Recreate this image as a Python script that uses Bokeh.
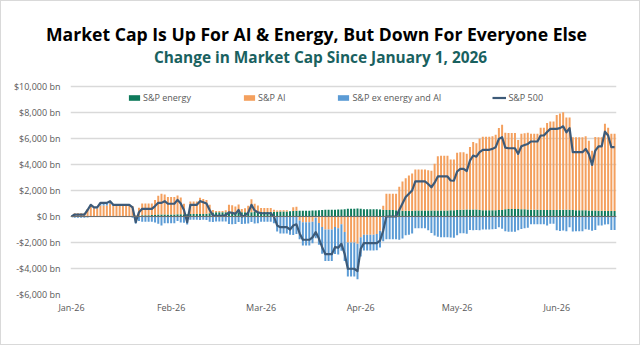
import numpy as np
import pandas as pd
from bokeh.plotting import figure
from bokeh.layouts import column
from bokeh.models import (ColumnDataSource, FixedTicker, CustomJSTickFormatter,
                          Legend, LegendItem, Span, Label, Range1d)
from bokeh.embed import file_html
from bokeh.resources import INLINE

# ---------------- data (change in market cap since Jan 1, 2026, $bn, daily) ----------------
start_date = "2026-01-01"

energy = [0, 0, 0, 0, 10, 20, 30, 30, 30, 30, 30, 30, 40, 40, 40, 40, 40, 40, 40, 50,
          50, 80, 100, 100, 100, 110, 120, 150, 150, 150, 150, 160, 160, 170, 170, 180, 180, 200, 200, 200,
          200, 200, 220, 250, 300, 330, 330, 330, 330, 320, 320, 320, 320, 330, 330, 330, 330, 340, 340, 350,
          350, 350, 350, 360, 370, 380, 380, 380, 400, 420, 450, 450, 450, 450, 450, 460, 470, 480, 500, 520,
          520, 520, 520, 530, 540, 560, 600, 600, 600, 620, 600, 560, 560, 560, 560, 550, 540, 520, 500, 500,
          500, 480, 480, 450, 450, 450, 450, 460, 460, 460, 460, 460, 460, 460, 460, 470, 470, 470, 480, 480,
          500, 520, 520, 540, 540, 540, 530, 500, 480, 480, 480, 480, 490, 500, 500, 560, 580, 580, 580, 580,
          560, 550, 540, 520, 520, 520, 500, 500, 500, 500, 500, 500, 520, 520, 520, 510, 500, 490, 490, 490,
          480, 470, 460, 460, 450, 450, 440, 430, 420, 420]

ai = [0, 250, 250, 250, 240, 550, 800, 600, 600, 820, 820, 820, 940, 760, 800, 800, 800, 800, 800, 750,
      50, 600, 900, 900, 900, 890, 1150, 1450, 1600, 1550, 1350, 1340, 1340, 1450, 1300, 800, -150, 950, 950, 950,
      1250, 1150, 1050, 650, 200, 100, 100, 100, 150, 580, 550, 450, 600, 250, 300, 500, 1000, 650, 500, 300,
      300, 300, 300, 150, 100, 100, 100, 100, 0, 300, 300, -300, -450, -450, -450, -400, -100, -500, -800, -1000,
      -1000, -1000, -800, -900, -600, -1200, -2000, -2000, -2000, -2100, -1600, -1400, -1400, -1400, -1400, -1350, -1100, 300, 1250, 1250,
      1250, 1270, 1800, 2250, 2500, 2700, 2850, 3150, 3150, 3150, 3150, 3100, 3050, 3600, 4180, 4200, 4200, 4200, 3900, 3900,
      4400, 4430, 4430, 4280, 4800, 5200, 5100, 5500, 5650, 5650, 5650, 5700, 5800, 6300, 6550, 5880, 5850, 5850, 5850, 5300,
      5800, 5850, 5900, 5850, 5850, 5850, 6330, 6330, 6700, 6800, 6800, 7300, 7400, 7500, 7100, 7100, 5600, 5600, 5600, 5600,
      5700, 5350, 4600, 5650, 5650, 5650, 6700, 6400, 5950, 5950]

ex_ai = [0, -100, -100, -100, -100, -70, 70, 70, 70, 200, 200, 200, 200, 100, 60, 60, 60, 60, 60, -100,
         -540, -350, -410, -410, -410, -410, -470, -550, -700, -520, -520, -520, -520, -340, -470, -480, -470, -250, -250, -250,
         -270, -250, -270, -400, -420, -380, -380, -380, -380, -570, -590, -570, -420, -580, -550, -530, -430, -530, -510, -400,
         -400, -400, -400, -510, -1160, -1300, -1300, -1300, -1400, -1420, -1350, -1450, -1790, -1790, -1790, -1660, -1570, -1680, -2060, -2420,
         -2420, -2420, -2080, -2030, -2040, -2230, -2620, -2620, -2620, -2720, -1480, -1210, -1210, -1210, -1210, -1250, -1290, -1900, -1750, -1750,
         -1750, -1750, -1780, -1700, -1450, -1400, -1300, -910, -910, -910, -910, -1060, -1260, -1460, -1560, -1590, -1590, -1590, -1610, -1630,
         -1440, -1280, -1280, -1320, -1040, -1050, -1030, -1050, -1000, -1000, -1000, -980, -960, -830, -950, -1140, -1180, -1180, -1180, -1060,
         -960, -900, -860, -600, -600, -600, -600, -600, -700, -560, -560, -1060, -1120, -1080, -1140, -820, -1150, -1140, -1140, -1140,
         -980, -1020, -1090, -1040, -700, -700, -610, -600, -1040, -1040]

sp500 = [0, 150, 150, 150, 150, 500, 900, 700, 700, 1050, 1050, 1050, 1180, 900, 900, 900, 900, 900, 900, 700,
         -440, 330, 590, 590, 590, 590, 800, 1050, 1050, 1180, 980, 980, 980, 1280, 1000, 500, -440, 900, 900, 900,
         1180, 1100, 1000, 500, 80, 50, 50, 50, 100, 330, 280, 200, 500, 0, 80, 300, 900, 460, 330, 250,
         250, 250, 250, 0, -690, -820, -820, -820, -1000, -700, -600, -1300, -1790, -1790, -1790, -1600, -1200, -1700, -2360, -2900,
         -2900, -2900, -2360, -2400, -2100, -2870, -4020, -4020, -4020, -4200, -2480, -2050, -2050, -2050, -2050, -2050, -1850, -1080, 0, 0,
         0, 0, 500, 1000, 1500, 1750, 2000, 2700, 2700, 2700, 2700, 2500, 2250, 2600, 3080, 3080, 3080, 3080, 2770, 2750,
         3460, 3670, 3670, 3500, 4300, 4690, 4600, 4950, 5130, 5130, 5130, 5200, 5330, 5970, 6100, 5300, 5250, 5250, 5250, 4820,
         5400, 5500, 5580, 5770, 5770, 5770, 6230, 6230, 6500, 6740, 6740, 6740, 6800, 6940, 6480, 6790, 4950, 4950, 4950, 4950,
         5200, 4800, 3970, 5070, 5400, 5400, 6530, 6230, 5330, 5330]

series_names = ["S&P energy", "S&P AI", "S&P ex energy and AI", "S&P 500"]
y_ticks = [-6000, -4000, -2000, 0, 2000, 4000, 6000, 8000, 10000]
month_ticks = ["2026-01-01", "2026-02-01", "2026-03-01", "2026-04-01", "2026-05-01", "2026-06-01"]

title_text = "Market Cap Is Up For AI & Energy, But Down For Everyone Else"
subtitle_text = "Change in Market Cap Since January 1, 2026"

# ---------------- styling ----------------
colors = ["#0E7A5B", "#F4A05E", "#5B9BD5"]
line_color = "#3D5A78"
font = "Open Sans"
grey = "#595959"

W = 638                     # inner width (1px border on each side)
H_TOP = 71                  # title strip
H_MAIN = 272                # chart
ML, MR, MB = 69, 23, 50
GRID_TOP = 14               # pixel row of the $10,000 gridline inside the chart figure
Y0, Y1 = -6000, 10000
px_per_unit = (H_MAIN - MB - GRID_TOP) / (Y1 - Y0)
y_top = Y1 + GRID_TOP / px_per_unit

# ---------------- title strip ----------------
pt = figure(width=W, height=H_TOP, output_backend="svg", toolbar_location=None, title=None,
            x_range=Range1d(0, W), y_range=Range1d(H_TOP, 0),
            x_axis_location=None, y_axis_location=None,
            min_border=0, background_fill_color="white", border_fill_color="white")
pt.frame_align = False
pt.outline_line_color = None
pt.grid.visible = False
pt.add_layout(Label(x=315, y=32, text=title_text, text_align="center", text_baseline="middle",
                    text_font=font, text_font_size="17.6px", text_font_style="bold",
                    text_color="#000000"))
pt.add_layout(Label(x=319, y=56, text=subtitle_text, text_align="center", text_baseline="middle",
                    text_font=font, text_font_size="15.4px", text_font_style="bold",
                    text_color="#19615F"))

# ---------------- chart ----------------
n = len(sp500)
dates = pd.date_range(start_date, periods=n, freq="D")
day_ms = 86400000.0

x0 = pd.Timestamp(start_date) - pd.Timedelta(hours=0.31 * 24)
x1 = pd.Timestamp(start_date) + pd.Timedelta(hours=169.6 * 24)

p = figure(width=W, height=H_MAIN, output_backend="svg", toolbar_location=None, title=None,
           x_axis_type="datetime", x_range=Range1d(x0, x1),
           y_range=Range1d(Y0, y_top),
           min_border_left=ML, min_border_right=MR, min_border_top=0, min_border_bottom=MB,
           background_fill_color="white", border_fill_color="white")
p.frame_align = False
p.outline_line_color = None

# stacked bars: positives and negatives stacked separately in series order
pos_base = np.zeros(n)
neg_base = np.zeros(n)
bar_renderers = []
for vals, col in zip([energy, ai, ex_ai], colors):
    v = np.asarray(vals, dtype=float)
    pos = np.clip(v, 0, None)
    neg = np.clip(v, None, 0)
    bottom = np.where(v >= 0, pos_base, neg_base)
    top = np.where(v >= 0, pos_base + pos, neg_base + neg)
    pos_base = pos_base + pos
    neg_base = neg_base + neg
    src = ColumnDataSource(dict(x=dates, top=top, bottom=bottom))
    r = p.vbar(x="x", top="top", bottom="bottom", width=0.62 * day_ms, source=src,
               fill_color=col, line_color=None)
    bar_renderers.append(r)

line_src = ColumnDataSource(dict(x=dates, y=sp500))
lr = p.line(x="x", y="y", source=line_src, line_color=line_color, line_width=2.2,
            line_join="round")

p.add_layout(Span(location=0, dimension="width", line_color="#6E6E6E", line_width=1.2))

# axes
p.yaxis.ticker = FixedTicker(ticks=y_ticks)
p.yaxis.formatter = CustomJSTickFormatter(code="""
    const a = Math.abs(tick).toLocaleString('en-US');
    return (tick < 0 ? '-' : '') + '$' + a + ' bn';
""")
p.xaxis.ticker = FixedTicker(ticks=[pd.Timestamp(t).value / 1e6 for t in month_ticks])
p.xaxis.formatter = CustomJSTickFormatter(code="""
    const d = new Date(tick);
    const m = ['Jan','Feb','Mar','Apr','May','Jun','Jul','Aug','Sep','Oct','Nov','Dec'][d.getUTCMonth()];
    return m + '-' + String(d.getUTCFullYear()).slice(2);
""")
for ax in [p.xaxis[0], p.yaxis[0]]:
    ax.axis_line_color = None
    ax.major_tick_line_color = None
    ax.minor_tick_line_color = None
    ax.major_tick_out = 0
    ax.major_tick_in = 0
    ax.major_label_text_font = font
    ax.major_label_text_font_size = "9px"
    ax.major_label_text_color = grey
p.yaxis.major_label_standoff = 10
p.xaxis.major_label_standoff = 6

p.xgrid.grid_line_color = None
p.ygrid.ticker = FixedTicker(ticks=y_ticks)
p.ygrid.grid_line_color = "#D9D9D9"
p.ygrid.grid_line_width = 1.5

# legend
items = [LegendItem(label=series_names[i], renderers=[bar_renderers[i]]) for i in range(3)]
items.append(LegendItem(label=series_names[3], renderers=[lr]))
legend = Legend(items=items, orientation="horizontal", location=(57, 190),
                padding=0, margin=0, spacing=51, glyph_width=14, glyph_height=7,
                label_standoff=2, label_text_font=font, label_text_font_size="9px",
                label_text_color=grey, background_fill_alpha=0, border_line_color=None)
p.add_layout(legend)

layout = column(pt, p, spacing=0,
                styles={"border": "1px solid #D9D9D9", "background-color": "white"})

open("out.html", "w").write(file_html(layout, INLINE))
